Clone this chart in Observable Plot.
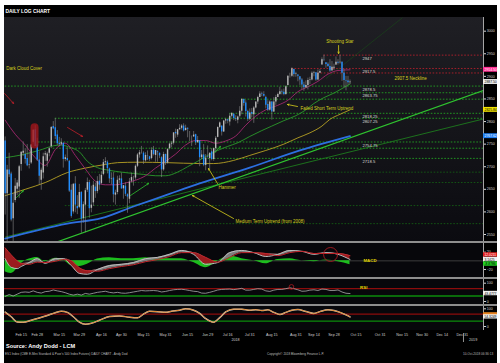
<!DOCTYPE html>
<html><head><meta charset="utf-8">
<script src="https://cdn.jsdelivr.net/npm/d3@7"></script>
<script src="https://cdn.jsdelivr.net/npm/@observablehq/plot@0.6"></script>
<style>
html,body{margin:0;padding:0;background:#fff;}
body{width:500px;height:363px;position:relative;overflow:hidden;font-family:"Liberation Sans",Arial,sans-serif;}
#frame{position:absolute;left:4px;top:5px;width:493px;height:358px;background:#000;overflow:hidden;}
.abs{position:absolute;left:0;}
#mainbg{position:absolute;left:0;top:12px;width:479px;height:224px;background:linear-gradient(#1f1f24,#0b0b10);}
.sep{position:absolute;left:0;width:493px;height:2px;background:#8e8e8e;}
.lowbg{position:absolute;left:0;width:479px;background:#07070b;}
svg{display:block;}
</style></head>
<body>
<div id="frame">
  <div id="mainbg"></div>
  <div id="main" class="abs" style="top:12px"></div>
  <div class="sep" style="top:236px"></div>
  <div class="lowbg" style="top:238px;height:34px"></div>
  <div id="macd" class="abs" style="top:238px"></div>
  <div class="sep" style="top:272px"></div>
  <div class="lowbg" style="top:274px;height:25px"></div>
  <div id="rsi" class="abs" style="top:274px"></div>
  <div class="sep" style="top:299px"></div>
  <div class="lowbg" style="top:301px;height:24px"></div>
  <div id="stoch" class="abs" style="top:301px"></div>
  <div id="xaxis" class="abs" style="top:325px"></div>
</div>
<script>
// ---------------- DATA ----------------
const firstDay = "2018-02-05";
const holidays = ["2018-02-19","2018-03-30","2018-05-28","2018-07-04","2018-09-03","2018-11-22","2018-12-25","2019-01-01"];

const opens = [2757,2640,2693,2684,2585,2625,2650,2655,2705,2730,2727,2718,2704,2708,2754,2782,2748,2715,2670,2686,
2726,2712,2730,2745,2789,2786,2770,2752,2750,2752,2716,2718,2712,2648,2600,2662,2612,2610,2643,2585,
2615,2648,2665,2608,2620,2655,2645,2668,2663,2683,2709,2710,2695,2672,2675,2637,2643,2670,2673,2651,
2657,2638,2628,2668,2675,2675,2701,2726,2733,2730,2713,2724,2722,2718,2737,2725,2733,2730,2720,2693,
2727,2708,2740,2750,2752,2776,2770,2782,2785,2790,2780,2785,2777,2766,2766,2771,2753,2757,2720,2726,
2703,2722,2718,2733,2716,2740,2765,2787,2790,2777,2801,2804,2799,2812,2816,2807,2803,2812,2823,2849,
2841,2822,2805,2820,2815,2830,2843,2853,2861,2860,2853,2838,2825,2843,2821,2843,2853,2860,2866,2865,
2860,2880,2900,2900,2915,2904,2903,2899,2892,2881,2875,2880,2891,2892,2907,2908,2892,2907,2925,2937,
2930,2927,2922,2912,2918,2925,2931,2930,2931,2907,2891,2890,2886];
const highs = [2766,2703,2730,2688,2640,2674,2670,2703,2733,2755,2740,2749,2732,2749,2782,2791,2763,2733,2697,2730,
2734,2732,2742,2789,2800,2807,2780,2765,2762,2753,2726,2742,2714,2660,2663,2678,2636,2661,2645,2622,
2652,2675,2670,2657,2668,2664,2678,2683,2689,2716,2720,2713,2697,2686,2687,2648,2679,2680,2686,2658,
2664,2640,2674,2686,2679,2704,2729,2736,2745,2733,2731,2735,2723,2742,2745,2736,2735,2730,2722,2732,
2728,2740,2752,2756,2775,2783,2782,2793,2793,2795,2792,2786,2778,2768,2778,2772,2767,2758,2736,2749,
2727,2746,2730,2740,2741,2767,2788,2799,2790,2802,2807,2805,2817,2820,2817,2813,2812,2833,2851,2850,
2846,2825,2828,2829,2833,2843,2856,2866,2865,2866,2856,2846,2846,2844,2853,2858,2863,2876,2870,2872,
2879,2901,2907,2919,2916,2909,2903,2899,2895,2887,2890,2896,2898,2910,2911,2908,2914,2915,2941,2947,
2930,2930,2937,2933,2927,2943,2937,2947,2932,2916,2900,2900,2892];
const lows = [2593,2529,2676,2578,2531,2620,2636,2630,2690,2723,2706,2700,2695,2705,2750,2744,2712,2660,2648,2673,
2712,2699,2722,2740,2782,2760,2747,2744,2747,2697,2711,2711,2643,2586,2595,2598,2594,2607,2553,2575,
2554,2643,2586,2598,2612,2630,2640,2648,2660,2680,2704,2684,2663,2660,2620,2615,2638,2662,2650,2628,
2634,2597,2618,2664,2657,2670,2698,2719,2728,2705,2710,2714,2712,2715,2724,2710,2710,2718,2676,2690,
2703,2706,2737,2742,2748,2763,2765,2780,2781,2777,2779,2764,2756,2745,2765,2747,2752,2700,2716,2700,
2691,2719,2694,2713,2712,2730,2764,2785,2768,2776,2794,2795,2790,2808,2802,2800,2795,2808,2815,2834,
2810,2800,2802,2808,2796,2828,2838,2853,2855,2854,2828,2822,2823,2803,2820,2836,2853,2858,2859,2857,
2858,2879,2896,2898,2898,2898,2888,2880,2870,2867,2873,2870,2882,2890,2899,2889,2890,2906,2925,2933,
2918,2920,2909,2912,2913,2924,2925,2927,2889,2875,2868,2880,2882];
const closes = [2640,2693,2682,2582,2619,2657,2664,2700,2732,2734,2716,2702,2705,2748,2781,2745,2715,2679,2692,2722,
2729,2728,2740,2787,2784,2767,2751,2749,2753,2716,2720,2714,2646,2590,2661,2615,2607,2643,2584,2616,
2647,2665,2607,2615,2659,2645,2667,2659,2681,2709,2711,2696,2673,2673,2638,2642,2670,2673,2651,2658,
2639,2633,2666,2676,2675,2701,2726,2731,2733,2714,2725,2723,2716,2736,2727,2736,2731,2724,2693,2727,
2708,2738,2750,2752,2775,2773,2782,2785,2790,2779,2785,2783,2777,2766,2770,2753,2758,2720,2726,2703,
2719,2721,2730,2716,2740,2763,2787,2797,2777,2801,2804,2801,2812,2818,2807,2805,2810,2823,2849,2840,
2822,2805,2819,2816,2830,2843,2853,2861,2860,2856,2836,2825,2843,2821,2843,2853,2860,2866,2865,2860,
2877,2900,2900,2917,2904,2905,2900,2892,2881,2875,2880,2891,2892,2907,2908,2892,2907,2911,2937,2936,
2926,2922,2912,2920,2920,2931,2929,2931,2907,2891,2890,2886,2887.5];

// moving averages (trading-day index, value)
const ma20Idx = [0,5,10,15,20,25,30,35,40,45,50,55,60,65,70,75,80,85,90,95,100,105,110,115,120,125,130,136,141,146,151,156,161,166,172];
const ma20Val = [2803,2772,2748,2720,2703,2738,2752,2725,2695,2668,2660,2660,2664,2670,2680,2697,2712,2728,2748,2758,2758,2752,2757,2768,2792,2812,2826,2836,2847,2866,2877,2889,2905,2913,2914.5];
const ma50Idx = [0,8,16,27,33,37,41,46,52,58,64,69,75,80,86,91,96,101,106,111,116,122,128,133,139,145,150,154,159,164,168,172];
const ma50Val = [2720,2726,2735,2748,2742,2733,2712,2698,2692,2688,2685,2683,2680,2680,2688,2700,2712,2725,2736,2745,2753,2767,2780,2790,2802,2813,2826,2840,2853,2863,2873,2883];
const ma100Idx = [0,10,20,31,40,50,56,66,81,97,104,114,122,130,139,146,152,158,162,167,172];
const ma100Val = [2636,2650,2665,2687,2697,2705,2709,2710,2709,2707,2707,2714,2725,2736,2750,2764,2775,2790,2805,2816,2825.84];
const ma200Idx = [0,31,48,64,82,97,122,147,172];
const ma200Val = [2541,2574,2586,2612,2640,2663,2698,2736,2767.62];

// straight trend lines (endpoints in index / price)
const trendNames = ["medium","long","short"];
const trendIdx1 = [0,0,160];
const trendP1 = [2492.7,2544.3,2895];
const trendIdx2 = [238.6,238.6,198.2];
const trendP2 = [2869.1,2805.8,3030];

// horizontal dotted levels
const levelPrice = [2947,2917.5,2907.5,2878.5,2863.75,2849.5,2818.25,2807.25,2754.75,2741,2718.5,2688,2665,2614,2574];
const levelStart = [159,143,156,0,137,118,112,25,15,24,98,40,60,30,45];
const levelKind = ["r","r","r","g","g","g","g","g","g","g","g","d","d","d","d"];
const levelLabel = ["2947","2917.5","","2878.5","2863.75","","2818.25","2807.25","2754.75","","2718.5","","","",""];

// annotations
const noteText = ["Dark Cloud Cover","Shooting Star","2907.5 Neckline","Failed Short Term Uptrend","Hammer","Medium Term Uptrend (from 2008)"];
const noteIdx = [0.5,167.0,194.2,147.3,106.4,114.9];
const notePrice = [2917.4,2977.2,2895.3,2829.0,2654.0,2579.0];
const noteAnchor = ["start","middle","start","start","start","start"];

const arrowIdx1 = [166.3,145.8,105.9,113.9,-0.3,31.1,5.7,62.5,104.4];
const arrowP1 = [2968.3,2833.3,2662.9,2585.4,2862.1,2786.9,2631.8,2636.3,2731.6];
const arrowIdx2 = [166.3,140.8,101.4,93.4,4.2,38.6,9.1,71.5,107.4];
const arrowP2 = [2950.6,2837.8,2696.1,2636.3,2840.0,2767.0,2647.3,2662.9,2744.9];
const arrowKind = ["y","y","y","y","r","r","g","g","g"];

// MACD
const macdIdx = [0,3,6,8,12,16,20,25,29,33,37,41,46,52,58,64,70,76,82,88,94,100,106,112,118,124,130,136,142,148,154,160,166,172];
const macdVal = [5,-15,-18,-13,-4,5,-6,5,5,-11,-29,-31,-20,-11,-8,-4,5,8,15,24,15,-8,-4,19,24,19,10,15,24,22,15,19,15,3.1425];
const signalVal = [30,14,0,-6,-8,-3,-4,-1,3,0,-16,-23,-24,-18,-13,-9,-2,3,10,19,19,8,-3,8,19,19,17,12,19,22,17,17,17,12];

// RSI (every second trading day from index 0)
const rsiVal = [28,38,30,40,50,52,50,58,50,46,54,56,63,58,54,48,40,35,40,35,44,40,45,50,53,56,50,47,50,46,
45,48,52,56,60,58,59,60,58,52,55,60,64,66,67,64,60,56,54,46,45,50,56,63,66,67,68,65,68,72,
62,62,66,70,68,58,55,62,66,66,70,75,70,64,56,57,62,64,60,68,66,60,60,63,52,45,43.48];

// third oscillator
const oscIdx = [0,3,6,9,13,17,21,25,28,31,34,37,40,43,47,52,57,62,66,69,72,76,80,83,87,90,94,97,100,104,107,110,114,118,122,125,128,131,134,137,140,143,146,150,154,157,161,164,167,170,172];
const oscVal = [81,55,26,24,35,48,62,78,86,80,55,25,13,18,35,56,60,52,49,70,86,84,80,86,92,100,92,74,45,24,50,82,98,98,92,95,90,94,80,68,80,92,96,85,74,84,94,90,80,66,54.32];

// x-axis ticks
const tickDates = ["2018-02-15","2018-02-28","2018-03-15","2018-03-29","2018-04-16","2018-04-30","2018-05-15","2018-05-31","2018-06-15","2018-06-29","2018-07-16","2018-07-31","2018-08-15","2018-08-31","2018-09-14","2018-09-28","2018-10-15","2018-10-31","2018-11-15","2018-11-30","2018-12-14","2018-12-31"];
const tickLabels = ["Feb 15","Feb 28","Mar 15","Mar 29","Apr 16","Apr 30","May 15","May 31","Jun 15","Jun 29","Jul 16","Jul 31","Aug 15","Aug 31","Sep 14","Sep 28","Oct 15","Oct 31","Nov 15","Nov 30","Dec 14","Dec 31"];
const priceTicks = [2550,2600,2650,2700,2750,2800,2850,2900,2950,3000];

// value tags on the right axis
const tagText = ["2914.50","2887.50","2825.84","2767.62"];
const tagPrice = [2914.5,2887.5,2825.84,2767.62];
const tagFill = ["#ff2f93","#efefef","#f2e400","#1f7ef2"];
const tagInk = ["#fff","#000","#000","#fff"];

// ---------------- LAYOUT HELPERS ----------------
const hol = new Set(holidays);
const calendar = [];
for (let d = new Date(firstDay + "T00:00:00Z"); calendar.length < 260; d.setUTCDate(d.getUTCDate() + 1)) {
  const wd = d.getUTCDay(), s = d.toISOString().slice(0, 10);
  if (wd > 0 && wd < 6 && !hol.has(s)) calendar.push(s);
}
const idxOf = s => calendar.indexOf(s);

const XD = [-0.33, 238.58];
const XEND = XD[1];
const W = 493, MR = 14;
const FONT = "Liberation Sans, Arial, sans-serif";
const common = (h) => ({
  width: W, height: h, marginLeft: 0, marginRight: MR, marginTop: 0, marginBottom: 0,
  style: {background: "transparent", color: "#d6d6d6", fontFamily: FONT, fontSize: "3.6px", overflow: "visible"},
  x: {domain: XD, axis: null},
  color: {type: "identity"}
});

const candles = opens.map((o, k) => ({i: k, date: calendar[k], open: o, high: highs[k], low: lows[k], close: closes[k]}));
const series = (idx, val) => idx.map((i, k) => ({i, v: val[k]}));
const levelColors = {r: "#b3202c", g: "#23a323", d: "#145c14"};
const levels = levelPrice.map((p, k) => ({p, start: levelStart[k], end: XEND, c: levelColors[levelKind[k]], label: levelLabel[k]}));
const trends = trendNames.map((n, k) => ({n, x1: trendIdx1[k], y1: trendP1[k], x2: trendIdx2[k], y2: trendP2[k]}));
const notes = noteText.map((t, k) => ({t, i: noteIdx[k], p: notePrice[k], a: noteAnchor[k]}));
const arrowColors = {y: "#d8cf1a", r: "#c0202a", g: "#2fbf2f"};
const arrows = arrowIdx1.map((x1, k) => ({x1, y1: arrowP1[k], x2: arrowIdx2[k], y2: arrowP2[k], c: arrowColors[arrowKind[k]]}));
const tags = tagText.map((t, k) => ({t, p: tagPrice[k], f: tagFill[k], ink: tagInk[k], x1: XEND, x2: XEND + 7.1}));
const noteMark = a => Plot.text(notes.filter(d => d.a === a), {x: "i", y: "p", text: "t", textAnchor: a, fill: "#d9d21c", fontSize: 4.5});

// ---------------- MAIN PRICE PANEL ----------------
const main = Plot.plot({
  ...common(224),
  y: {domain: [2534.5, 3030.3], axis: "right", ticks: priceTicks, tickSize: 2, tickPadding: 1.2, tickFormat: d => String(d), label: null},
  marks: [
    Plot.ruleY(levels, {y: "p", x1: "start", x2: "end", stroke: "c", strokeWidth: 0.9, strokeDasharray: "1.6,1.6"}),
    Plot.link(trends.filter(d => d.n === "long"), {x1: "x1", y1: "y1", x2: "x2", y2: "y2", stroke: "#1d7a1d", strokeWidth: 0.9, clip: true}),
    Plot.link(trends.filter(d => d.n === "medium"), {x1: "x1", y1: "y1", x2: "x2", y2: "y2", stroke: "#2fc42f", strokeWidth: 1.2, clip: true}),
    Plot.link(trends.filter(d => d.n === "short"), {x1: "x1", y1: "y1", x2: "x2", y2: "y2", stroke: "#1a4a1a", strokeWidth: 0.6, clip: true}),
    Plot.line(series(ma200Idx, ma200Val), {x: "i", y: "v", stroke: "#2c6fe0", strokeWidth: 1.8, curve: "monotone-x", clip: true}),
    Plot.line(series(ma100Idx, ma100Val), {x: "i", y: "v", stroke: "#b7a224", strokeWidth: 0.9, curve: "monotone-x", clip: true}),
    Plot.line(series(ma50Idx, ma50Val), {x: "i", y: "v", stroke: "#2a9a2a", strokeWidth: 0.9, curve: "monotone-x", clip: true}),
    Plot.line(series(ma20Idx, ma20Val), {x: "i", y: "v", stroke: "#a3286f", strokeWidth: 0.9, curve: "monotone-x", clip: true}),
    Plot.ruleX(candles, {x: "i", y1: "low", y2: "high", stroke: "#8a8a8a", strokeWidth: 0.6, clip: true}),
    Plot.ruleX(candles, {x: "i", y1: "open", y2: "close", stroke: d => d.close >= d.open ? "#b8b8b8" : "#1f8dff", strokeWidth: 1.4, clip: true}),
    Plot.ruleX([{i: 14.65, lo: 2748, hi: 2786}], {x: "i", y1: "lo", y2: "hi", stroke: "#a3151a", strokeWidth: 8, strokeLinecap: "round", strokeOpacity: 0.8}),
    Plot.text(levels.filter(d => d.label), {x: 178.2, y: "p", text: "label", dy: 3.2, fill: "#d8d8d8", fontSize: 4.2, textAnchor: "start"}),
    noteMark("start"), noteMark("middle"),
    Plot.arrow(arrows, {x1: "x1", y1: "y1", x2: "x2", y2: "y2", stroke: "c", strokeWidth: 0.8, headLength: 3, headAngle: 50}),
    Plot.ruleX([XEND], {stroke: "#cfcfcf", strokeWidth: 0.8}),
    Plot.rect(tags, {x1: "x1", x2: "x2", y1: d => d.p - 5.4, y2: d => d.p + 5.4, fill: "f"}),
    Plot.text(tags, {x: "x1", y: "p", text: "t", fill: "ink", fontSize: 3.4, textAnchor: "start", dx: 1})
  ]
});
document.getElementById("main").append(main);

// ---------------- MACD PANEL ----------------
const macdRows = macdIdx.map((i, k) => ({i, macd: macdVal[k], signal: signalVal[k], hist: macdVal[k] - signalVal[k], hi: Math.max(macdVal[k], signalVal[k])}));
const macdTags = [
  {t: "12.0211", v: 13.6, f: "#e41b1b", ink: "#fff"},
  {t: "3.1425", v: 3.14, f: "#efefef", ink: "#000"},
  {t: "-8.8786", v: -7.4, f: "#22d322", ink: "#000"}
].map(d => ({...d, x1: XEND, x2: XEND + 7.1}));
const macd = Plot.plot({
  ...common(34),
  y: {domain: [-38.5, 40.1], axis: "right", ticks: [20, -20], tickSize: 2, tickPadding: 1.2, label: null},
  marks: [
    Plot.ruleY([0], {stroke: "#4a4a4a", strokeWidth: 0.8}),
    Plot.areaY(macdRows, {x: "i", y: "hist", fill: "#1fd21f", fillOpacity: 0.9, curve: "monotone-x"}),
    Plot.areaY(macdRows, {x: "i", y1: "macd", y2: "hi", fill: "#9b1c1f", curve: "monotone-x"}),
    Plot.areaY(macdRows, {x: "i", y1: "signal", y2: "hi", fill: "#7d7d7d", curve: "monotone-x"}),
    Plot.line(macdRows, {x: "i", y: "macd", stroke: "#bdbdbd", strokeWidth: 1, curve: "monotone-x"}),
    Plot.line(macdRows, {x: "i", y: "signal", stroke: "#c4262c", strokeWidth: 1, curve: "monotone-x"}),
    Plot.dot([{i: 162.3, v: 14.7}], {x: "i", y: "v", r: 7, stroke: "#a81a1f", strokeWidth: 0.9, fill: "none"}),
    Plot.text([{i: 178.7, v: 0, t: "MACD"}], {x: "i", y: "v", text: "t", fill: "#e0d600", fontSize: 4.4, textAnchor: "start", fontWeight: "bold"}),
    Plot.ruleX([XEND], {stroke: "#cfcfcf", strokeWidth: 0.8}),
    Plot.rect(macdTags, {x1: "x1", x2: "x2", y1: d => d.v - 5, y2: d => d.v + 5, fill: "f"}),
    Plot.text(macdTags, {x: "x1", y: "v", text: "t", fill: "ink", fontSize: 3.3, textAnchor: "start", dx: 1})
  ]
});
document.getElementById("macd").append(macd);

// ---------------- RSI PANEL ----------------
const rsiRows = rsiVal.map((v, k) => ({i: k * 2, v}));
const rsi = Plot.plot({
  ...common(25),
  y: {domain: [-16.4, 120.2], axis: "right", ticks: [0, 100], tickSize: 2, tickPadding: 1.2, label: null},
  marks: [
    Plot.ruleY([70], {stroke: "#8c0c0c", strokeWidth: 1.3}),
    Plot.ruleY([30], {stroke: "#0c8c0c", strokeWidth: 1.3}),
    Plot.line(rsiRows, {x: "i", y: "v", stroke: "#a9a9a9", strokeWidth: 0.8}),
    Plot.dot([{i: 142.8, v: 80}], {x: "i", y: "v", r: 2.3, stroke: "#b01a1f", strokeWidth: 0.8, fill: "none"}),
    Plot.text([{i: 177, v: 77, t: "RSI"}], {x: "i", y: "v", text: "t", fill: "#e0d600", fontSize: 4.4, textAnchor: "start", fontWeight: "bold"}),
    Plot.ruleX([XEND], {stroke: "#cfcfcf", strokeWidth: 0.8}),
    Plot.rect([{v: 43.48, x1: XEND, x2: XEND + 7.1}], {x1: "x1", x2: "x2", y1: d => d.v - 12, y2: d => d.v + 12, fill: "#efefef"}),
    Plot.text([{v: 43.48, t: "43.4777"}], {x: XEND, y: "v", text: "t", fill: "#000", fontSize: 3.3, textAnchor: "start", dx: 1})
  ]
});
document.getElementById("rsi").append(rsi);

// ---------------- THIRD OSCILLATOR ----------------
const oscRows = series(oscIdx, oscVal);
const osc = Plot.plot({
  ...common(24),
  y: {domain: [-22.6, 113], axis: "right", ticks: [0, 100], tickSize: 2, tickPadding: 1.2, label: null},
  marks: [
    Plot.ruleY([70], {stroke: "#8c0c0c", strokeWidth: 1.3}),
    Plot.ruleY([30], {stroke: "#0c8c0c", strokeWidth: 1.3}),
    Plot.line(oscRows, {x: "i", y: "v", stroke: "#c9c9c9", strokeWidth: 1.5, curve: "monotone-x"}),
    Plot.line(oscRows, {x: "i", y: "v", stroke: "#e6821f", strokeWidth: 0.9, curve: "monotone-x"}),
    Plot.ruleX([XEND], {stroke: "#cfcfcf", strokeWidth: 0.8}),
    Plot.rect([{v: 66, x1: XEND, x2: XEND + 7.1}], {x1: "x1", x2: "x2", y1: d => d.v - 12, y2: d => d.v + 12, fill: "#e6821f"}),
    Plot.rect([{v: 54.32, x1: XEND, x2: XEND + 7.1}], {x1: "x1", x2: "x2", y1: d => d.v - 12, y2: d => d.v + 12, fill: "#efefef"}),
    Plot.text([{v: 54.32, t: "54.3249"}], {x: XEND, y: "v", text: "t", fill: "#000", fontSize: 3.3, textAnchor: "start", dx: 1})
  ]
});
document.getElementById("stoch").append(osc);

// ---------------- X AXIS ----------------
const ticks = tickDates.map((d, k) => ({i: idxOf(d), t: tickLabels[k]}));
const years = [{i: 114.9, t: "2018"}, {i: 233.4, t: "2019"}];
const xa = Plot.plot({
  ...common(14),
  y: {domain: [0, 14], range: [0, 14], axis: null},
  marks: [
    Plot.text(ticks, {x: "i", y: 4.2, text: "t", fill: "#cfcfcf", fontSize: 3.7}),
    Plot.text(years, {x: "i", y: 9.5, text: "t", fill: "#cfcfcf", fontSize: 3.7}),
    Plot.ruleX([228.6], {y1: 3, y2: 12, stroke: "#cfcfcf", strokeWidth: 0.7})
  ]
});
document.getElementById("xaxis").append(xa);

// ---------------- TITLE & FOOTER ----------------
const deco = d3.select("#frame").append("svg")
  .attr("width", 493).attr("height", 358)
  .style("position", "absolute").style("left", "0px").style("top", "0px")
  .style("font-family", FONT);
deco.append("text").attr("x", 1.5).attr("y", 7.9).attr("fill", "#fff").attr("font-size", 4.9).attr("font-weight", "bold").text("DAILY LOG CHART");
deco.append("text").attr("x", 2).attr("y", 343.2).attr("fill", "#fff").attr("font-size", 5.6).attr("font-weight", "bold").text("Source: Andy Dodd - LCM");
deco.append("text").attr("x", 1).attr("y", 349.8).attr("fill", "#bdbdbd").attr("font-size", 3.1).text("ES1 Index (CME E-Mini Standard & Poor's 500 Index Futures) DAILY CHART - Andy Dod");
deco.append("text").attr("x", 263).attr("y", 349.8).attr("fill", "#bdbdbd").attr("font-size", 3.1).text("Copyright\u00a9 2018 Bloomberg Finance L.P.");
deco.append("text").attr("x", 459).attr("y", 349.8).attr("fill", "#bdbdbd").attr("font-size", 3.1).text("10-Oct-2018 06:36:13");
</script>
</body></html>
